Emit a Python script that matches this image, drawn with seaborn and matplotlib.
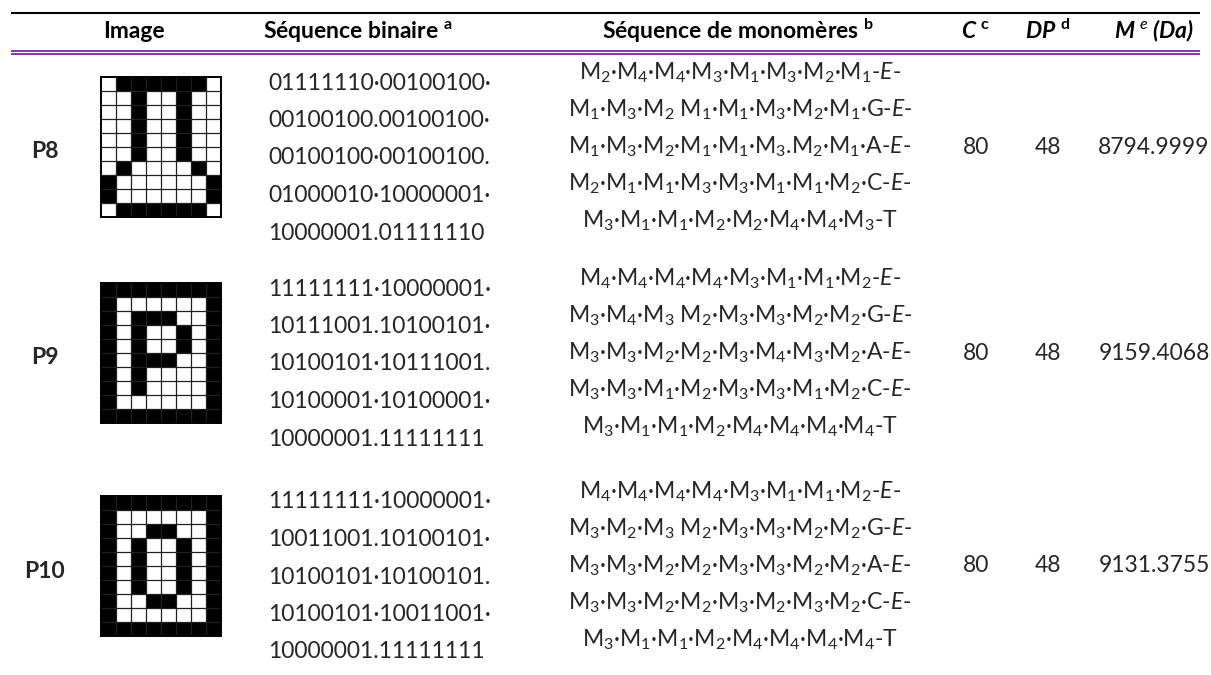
import re
import numpy as np
import matplotlib.pyplot as plt
import seaborn as sns

# table data
polymers = ["P8", "P9", "P10"]
binary_seq = [
    ["01111110·00100100·", "00100100.00100100·", "00100100·00100100.",
     "01000010·10000001·", "10000001.01111110"],
    ["11111111·10000001·", "10111001.10100101·", "10100101·10111001.",
     "10100001·10100001·", "10000001.11111111"],
    ["11111111·10000001·", "10011001.10100101·", "10100101·10100101.",
     "10100101·10011001·", "10000001.11111111"],
]
monomer_seq = [
    ["M2·M4·M4·M3·M1·M3·M2·M1-E-", "M1·M3·M2 M1·M1·M3·M2·M1·G-E-",
     "M1·M3·M2·M1·M1·M3.M2·M1·A-E-", "M2·M1·M1·M3·M3·M1·M1·M2·C-E-",
     "M3·M1·M1·M2·M2·M4·M4·M3-T"],
    ["M4·M4·M4·M4·M3·M1·M1·M2-E-", "M3·M4·M3 M2·M3·M3·M2·M2·G-E-",
     "M3·M3·M2·M2·M3·M4·M3·M2·A-E-", "M3·M3·M1·M2·M3·M3·M1·M2·C-E-",
     "M3·M1·M1·M2·M4·M4·M4·M4-T"],
    ["M4·M4·M4·M4·M3·M1·M1·M2-E-", "M3·M2·M3 M2·M3·M3·M2·M2·G-E-",
     "M3·M3·M2·M2·M3·M3·M2·M2·A-E-", "M3·M3·M2·M2·M3·M2·M3·M2·C-E-",
     "M3·M1·M1·M2·M4·M4·M4·M4-T"],
]
chain_c = [80, 80, 80]
dp_values = [48, 48, 48]
mass_da = ["8794.9999", "9159.4068", "9131.3755"]

sns.set_theme(style="white")
plt.rcParams["font.family"] = ["Lato", "DejaVu Sans"]
plt.rcParams["mathtext.fontset"] = "custom"
plt.rcParams["mathtext.rm"] = "Lato"
plt.rcParams["mathtext.it"] = "Lato:italic"
plt.rcParams["mathtext.bf"] = "Lato:bold"
plt.rcParams["mathtext.bfit"] = "Lato:italic:bold"

W, H = 1211, 675
fs = 16.5
fig = plt.figure(figsize=(W / 100, H / 100), dpi=100)
ax = fig.add_axes([0, 0, 1, 1])
ax.set_xlim(0, W)
ax.set_ylim(H, 0)
ax.axis("off")

# rules
ax.plot([11, 1200], [13, 13], color="black", lw=1.5, solid_capstyle="butt")
ax.plot([11, 1200], [50.8, 50.8], color="#7030A0", lw=1.3, solid_capstyle="butt")
ax.plot([11, 1200], [53.8, 53.8], color="#7030A0", lw=1.3, solid_capstyle="butt")

# header
hy = 31
hkw = dict(fontsize=fs, fontweight="bold", ha="center", va="center", color="black")
ax.text(134, hy, "Image", **hkw)
ax.text(358, hy, r"Séquence binaire $^{\mathbf{a}}$", **hkw)
ax.text(738, hy, r"Séquence de monomères $^{\mathbf{b}}$", **hkw)
ax.text(976, hy, r"$\mathbfit{C}$ $^{\mathbf{c}}$", **hkw)
ax.text(1048, hy, r"$\mathbfit{DP}$ $^{\mathbf{d}}$", **hkw)
ax.text(1154, hy, r"$\mathbfit{M}$ $^{e}$ (Da)", fontstyle="italic", **hkw)

row_top = [77, 283, 496]
for i, name in enumerate(polymers):
    top = row_top[i]

    # pixel image from the binary sequence (1 = black)
    bits = re.findall(r"[01]{8}", "".join(binary_seq[i]))
    grid = np.array([[int(b) for b in row] for row in bits])
    iax = fig.add_axes([101 / W, 1 - (top + 140) / H, 120 / W, 140 / H])
    sns.heatmap(grid, ax=iax, cmap=["white", "black"], vmin=0, vmax=1, cbar=False,
                linewidths=0, xticklabels=False, yticklabels=False)
    nr, nc = grid.shape
    iax.hlines(np.arange(1, nr), 0, nc, color="#202020", lw=0.9)
    iax.vlines(np.arange(1, nc), 0, nr, color="#202020", lw=0.9)
    for sp in iax.spines.values():
        sp.set_visible(True)
        sp.set_color("black")
        sp.set_linewidth(1.4)

    ax.text(45, top + 75, name, fontsize=fs, fontweight="bold", ha="center", va="center")

    for j, line in enumerate(binary_seq[i]):
        ax.text(268, top + 6 + j * 37.5, line, fontsize=fs, ha="left", va="center")

    for j, line in enumerate(monomer_seq[i]):
        s = re.sub(r"M(\d)", r"M$_{\1}$", line).replace("-E-", "-$E$-")
        ax.text(740, top - 4 + j * 37, s, fontsize=fs, ha="center", va="center")

    ny = top + 70
    ax.text(976, ny, str(chain_c[i]), fontsize=fs, ha="center", va="center")
    ax.text(1048, ny, str(dp_values[i]), fontsize=fs, ha="center", va="center")
    ax.text(1154, ny, mass_da[i], fontsize=fs, ha="center", va="center")

fig.savefig("out.png", dpi=100)
